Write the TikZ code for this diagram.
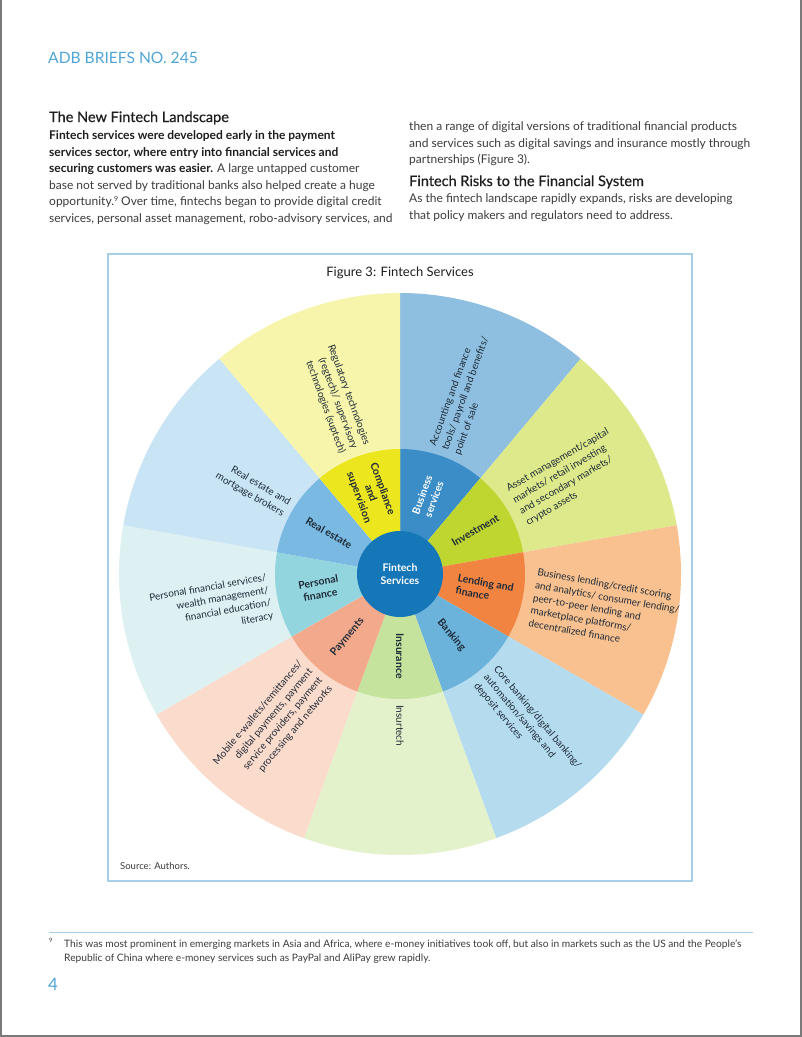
\documentclass[tikz,border=0pt]{standalone}
\usepackage{fontspec}
\setmainfont{Lato}
\newfontfamily\headfont[FakeBold=0.6]{Lato}
\definecolor{hdrblue}{HTML}{4FA6D6}
\definecolor{pageedge}{HTML}{7A7A7A}
\definecolor{boxblue}{HTML}{A6CEE6}
\definecolor{bodytext}{HTML}{3C3C3C}
\definecolor{headtext}{HTML}{1E1E1E}
\definecolor{labtext}{HTML}{1F2B38}
\definecolor{busO}{HTML}{8FBFE0}
\definecolor{busI}{HTML}{3B8DC8}
\definecolor{invO}{HTML}{DDE98A}
\definecolor{invI}{HTML}{BED62F}
\definecolor{lenO}{HTML}{F8C18F}
\definecolor{lenI}{HTML}{F28442}
\definecolor{bankO}{HTML}{B5DBEF}
\definecolor{bankI}{HTML}{6BB3DA}
\definecolor{insO}{HTML}{E4F2CB}
\definecolor{insI}{HTML}{C6E39E}
\definecolor{payO}{HTML}{FBDBCC}
\definecolor{payI}{HTML}{F3A98B}
\definecolor{perO}{HTML}{DDF1F3}
\definecolor{perI}{HTML}{93D5DE}
\definecolor{realO}{HTML}{C8E4F5}
\definecolor{realI}{HTML}{7AB9E2}
\definecolor{compO}{HTML}{F6F5AB}
\definecolor{compI}{HTML}{ECE61E}
\definecolor{hub}{HTML}{1677B8}
\tikzset{
  bodyline/.style={anchor=base west, inner sep=0pt, text=bodytext, font=\fontsize{12}{14}\selectfont},
  headline/.style={anchor=base west, inner sep=0pt, text=headtext, font=\headfont\fontsize{14.5}{17}\selectfont},
  inlab/.style={inner sep=0pt, text=labtext, align=center, font=\bfseries\fontsize{10.5}{12.5}\selectfont},
  outlab/.style={inner sep=0pt, text=labtext, font=\fontsize{10}{13}\selectfont},
  footline/.style={anchor=base west, inner sep=0pt, text=bodytext, font=\fontsize{10.2}{11}\selectfont}
}
\begin{document}
\begin{tikzpicture}[x=1pt,y=1pt]
\useasboundingbox (0,0) rectangle (802,-1037);
\fill[white] (0,0) rectangle (802,-1037);
\draw[pageedge, line width=1.5pt] (1,0) -- (1,-1036) -- (801,-1036) -- (801,0);

% header
\node[anchor=base west, inner sep=0pt, text=hdrblue, font=\fontsize{15.6}{18}\selectfont] (hdr) at (48,-63.5) {ADB BRIEFS NO. 245};

% left column
\node[headline] (h1) at (49,-122) {The New Fintech Landscape};
\node[bodyline] (l1) at (49,-139.5) {\bfseries\color{headtext}Fintech services were developed early in the payment};
\node[bodyline] (l2) at (49,-156) {\bfseries\color{headtext}services sector, where entry into financial services and};
\node[bodyline] (l3) at (49,-172.5) {{\bfseries\color{headtext}securing customers was easier.} A large untapped customer};
\node[bodyline] (l4) at (49,-189) {base not served by traditional banks also helped create a huge};
\node[bodyline] (l5) at (49,-205.5) {opportunity.\raisebox{4pt}{\fontsize{7}{8}\selectfont 9} Over time, fintechs began to provide digital credit};
\node[bodyline] (l6) at (49,-222) {services, personal asset management, robo-advisory services, and};

% right column
\node[bodyline] (r1) at (409,-130.5) {then a range of digital versions of traditional financial products};
\node[bodyline] (r2) at (409,-147) {and services such as digital savings and insurance mostly through};
\node[bodyline] (r3) at (409,-163.5) {partnerships (Figure 3).};
\node[headline] (h2) at (409,-186) {Fintech Risks to the Financial System};
\node[bodyline] (r4) at (409,-202.5) {As the fintech landscape rapidly expands, risks are developing};
\node[bodyline] (r5) at (409,-219) {that policy makers and regulators need to address.};

% figure box
\draw[boxblue, line width=1.2pt] (108,-254) rectangle (692,-881);
\node[inner sep=0pt, text=headtext, font=\fontsize{13}{15}\selectfont] (ftitle) at (400,-273) {Figure 3: Fintech Services};
\node[anchor=base west, inner sep=0pt, text=bodytext, font=\fontsize{9.5}{11}\selectfont] (src) at (120,-869) {Source: Authors.};

% wheel
\begin{scope}[shift={(400,-574)}]
\foreach \a/\b/\co/\ci in {50/90/busO/busI, 10/50/invO/invI, -30/10/lenO/lenI, -70/-30/bankO/bankI, -110/-70/insO/insI, 210/250/payO/payI, 170/210/perO/perI, 130/170/realO/realI, 90/130/compO/compI}{
  \fill[\co] (0,0) -- (\a:281) arc[start angle=\a, end angle=\b, radius=281] -- cycle;
  \fill[\ci] (0,0) -- (\a:125) arc[start angle=\a, end angle=\b, radius=125] -- cycle;
}
\fill[hub] (0,0) circle[radius=43];
\node[inlab, text=white, font=\bfseries\fontsize{10.5}{13}\selectfont] (hubtext) at (0,0) {Fintech\\Services};

% inner ring labels
\node[inlab, text=white, rotate=70] (ibus) at (70:82) {Business\\services};
\node[inlab, rotate=30] (iinv) at (30:87) {Investment};
\node[inlab, rotate=-10, align=left] (ilen) at (-10:86) {Lending and\\finance};
\node[inlab, rotate=-50] (ibank) at (-50:80) {Banking};
\node[inlab, rotate=-90] (iins) at (-90:82) {Insurance};
\node[inlab, rotate=50] (ipay) at (230:82) {Payments};
\node[inlab, rotate=10] (iper) at (190:82) {Personal\\finance};
\node[inlab, rotate=-30] (ireal) at (150:82) {Real estate};
\node[inlab, rotate=-70] (icomp) at (110:86) {Compliance\\and\\supervision};

% outer ring labels
\node[outlab, rotate=70, anchor=west, align=left] (obus) at (70:132) {Accounting and finance\\tools/ payroll and benefits/\\point of sale};
\node[outlab, rotate=30, anchor=west, align=left] (oinv) at (30:135) {Asset management/capital\\markets/ retail investing\\and secondary markets/\\crypto assets};
\node[outlab, rotate=-10, anchor=west, align=left] (olen) at (-10:135) {Business lending/credit scoring\\and analytics/ consumer lending/\\peer-to-peer lending and\\marketplace platforms/\\decentralized finance};
\node[outlab, rotate=-50, anchor=west, align=left] (obank) at (-50:133) {Core banking/digital banking/\\automation/savings and\\deposit services};
\node[outlab, rotate=-90, anchor=west] (oins) at (-90:131) {Insurtech};
\node[outlab, rotate=50, anchor=east, align=right] (opay) at (230:131) {Mobile e-wallets/remittances/\\digital payments, payment\\service providers, payment\\processing and networks};
\node[outlab, rotate=10, anchor=east, align=right] (oper) at (190:132) {Personal financial services/\\wealth management/\\financial education/\\literacy};
\node[outlab, rotate=-30, anchor=east, align=right] (oreal) at (150:131) {Real estate and\\mortgage brokers};
\node[outlab, rotate=-70, anchor=east, align=right] (ocomp) at (110:133) {Regulatory technologies\\(regtech)/ supervisory\\technologies (suptech)};
\end{scope}

% footnote
\draw[boxblue, line width=0.8pt] (49,-932) -- (753,-932);
\node[anchor=base west, inner sep=0pt, text=bodytext, font=\fontsize{6}{7}\selectfont] (fnmark) at (49,-942) {9};
\node[footline] (f1) at (64,-947.5) {This was most prominent in emerging markets in Asia and Africa, where e-money initiatives took off, but also in markets such as the US and the People's};
\node[footline] (f2) at (64,-961.5) {Republic of China where e-money services such as PayPal and AliPay grew rapidly.};
\node[anchor=base west, inner sep=0pt, text=hdrblue, font=\fontsize{17}{19}\selectfont] (pnum) at (48,-990) {4};
\end{tikzpicture}
\end{document}
